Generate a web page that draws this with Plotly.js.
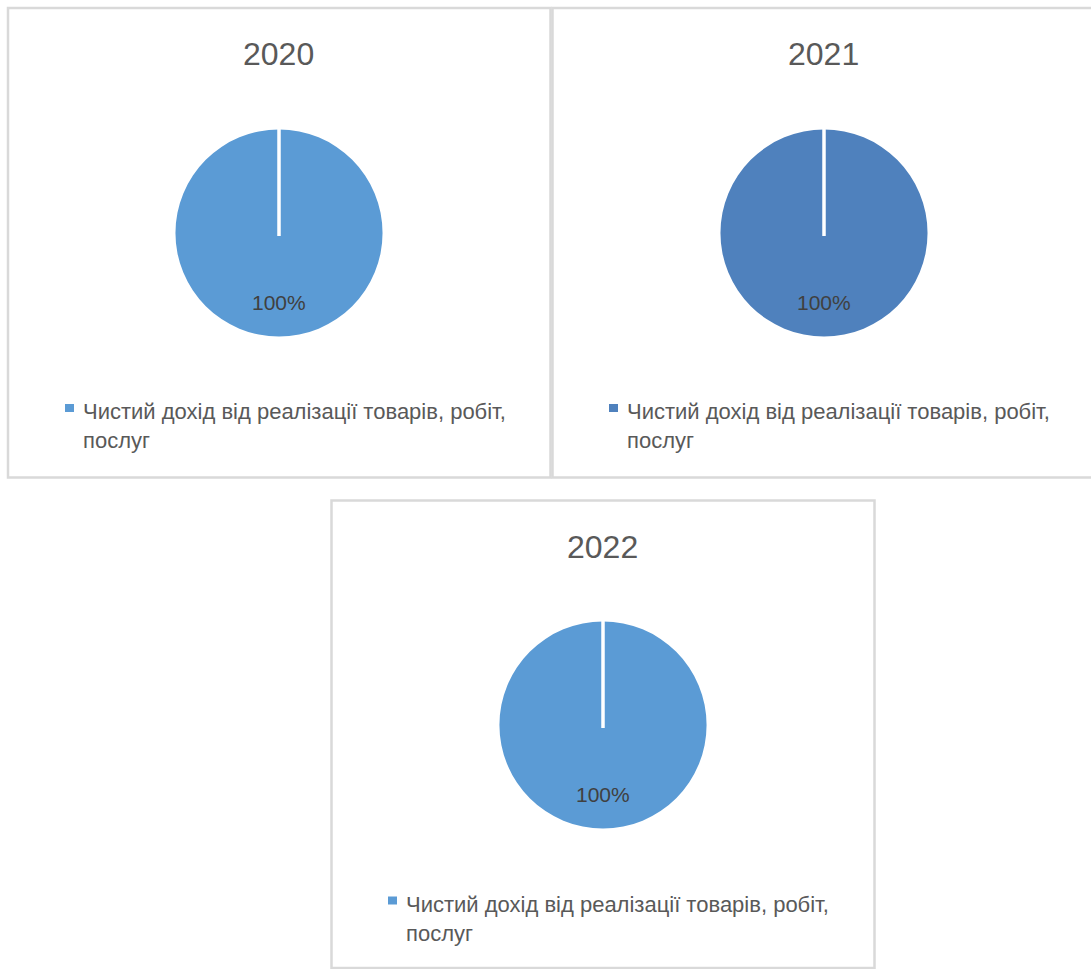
<!DOCTYPE html>
<html>
<head>
<meta charset="utf-8">
<script src="https://cdn.plot.ly/plotly-3.0.1.min.js"></script>
<style>html,body{margin:0;padding:0;background:#fff;}#chart{width:1091px;height:969px;}</style>
</head>
<body>
<div id="chart"></div>
<script>
// ---- data ----
const years = ['2020', '2021', '2022'];
const categories = ['Чистий дохід від реалізації товарів, робіт, послуг'];
const legendLabels = ['Чистий дохід від реалізації товарів, робіт,<br>послуг'];
const values2020 = [100];
const values2021 = [100];
const values2022 = [100];
const seriesValues = [values2020, values2021, values2022];
const sliceColors = ['#5B9BD5', '#4F81BD', '#5B9BD5'];

// ---- layout geometry (pixels) ----
const W = 1091, H = 969;
const panels = [
  {box: [8, 8, 550.5, 477.5], cx: 279, cy: 233, r: 103.5, titleX: 278, titleY: 54, legX: 65, legY: 404},
  {box: [552.5, 8, 1096, 477.5], cx: 824, cy: 233, r: 103.5, titleX: 823, titleY: 54, legX: 609, legY: 404},
  {box: [331.5, 500.5, 874.5, 968], cx: 603, cy: 725, r: 103.5, titleX: 603, titleY: 547, legX: 388, legY: 896.5}
];
const px = x => x / W;
const py = y => 1 - y / H;

const traces = [], shapes = [], annotations = [];
const FONT = 'Liberation Sans, Arial, sans-serif';
const layout = {
  width: W, height: H,
  margin: {l: 0, r: 0, t: 0, b: 0},
  paper_bgcolor: '#ffffff',
  showlegend: false,
  font: {family: FONT, color: '#595959'}
};

panels.forEach((p, i) => {
  const vals = seriesValues[i];
  const total = vals.reduce((a, b) => a + b, 0);
  traces.push({
    type: 'pie',
    name: years[i],
    labels: categories,
    values: vals,
    sort: false,
    direction: 'clockwise',
    rotation: 0,
    textinfo: 'none',
    hoverinfo: 'label+percent',
    marker: {colors: [sliceColors[i]], line: {color: '#ffffff', width: 0}},
    domain: {x: [px(p.cx - p.r), px(p.cx + p.r)], y: [py(p.cy + p.r), py(p.cy - p.r)]},
    showlegend: false
  });
  // panel border
  shapes.push({type: 'rect', xref: 'paper', yref: 'paper',
    x0: px(p.box[0]), x1: px(p.box[2]), y0: py(p.box[3]), y1: py(p.box[1]),
    line: {color: '#d9d9d9', width: 2.5}, fillcolor: 'rgba(0,0,0,0)', layer: 'below'});
  // white radial separator at the slice start
  shapes.push({type: 'line', xref: 'paper', yref: 'paper',
    x0: px(p.cx), x1: px(p.cx), y0: py(p.cy + 3), y1: py(p.cy - p.r - 1),
    line: {color: '#ffffff', width: 3.5}, layer: 'above'});
  // title
  annotations.push({xref: 'paper', yref: 'paper', x: px(p.titleX), y: py(p.titleY),
    xanchor: 'center', yanchor: 'middle', showarrow: false, text: years[i],
    font: {size: 32, color: '#595959', family: FONT}});
  // data label (percentage computed from values)
  vals.forEach(v => {
    annotations.push({xref: 'paper', yref: 'paper', x: px(p.cx), y: py(p.cy + p.r * 0.67),
      xanchor: 'center', yanchor: 'middle', showarrow: false,
      text: Math.round(v / total * 100) + '%',
      font: {size: 21, color: '#404040', family: FONT}});
  });
  // legend: colour key + wrapped label
  legendLabels.forEach((lab, k) => {
    shapes.push({type: 'rect', xref: 'paper', yref: 'paper',
      x0: px(p.legX), x1: px(p.legX + 9), y0: py(p.legY + 8), y1: py(p.legY),
      line: {width: 0}, fillcolor: sliceColors[i]});
    annotations.push({xref: 'paper', yref: 'paper', x: px(p.legX + 16), y: py(p.legY - 7),
      xanchor: 'left', yanchor: 'top', align: 'left', showarrow: false, text: lab,
      font: {size: 22, color: '#595959', family: FONT}});
  });
});
layout.shapes = shapes;
layout.annotations = annotations;

Plotly.newPlot('chart', traces, layout, {displayModeBar: false, staticPlot: true});
</script>
</body>
</html>
